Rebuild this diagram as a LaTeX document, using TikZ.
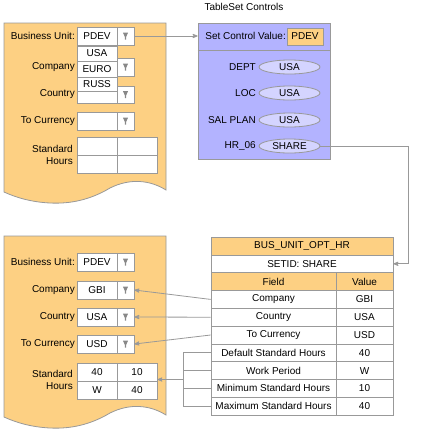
\documentclass[tikz,border=0pt]{standalone}
\usepackage{fontspec}
\setmainfont{Liberation Sans}
\usetikzlibrary{arrows}
\usetikzlibrary{shapes}

\definecolor{docorange}{HTML}{FDD083}
\definecolor{tsblue}{HTML}{B3B3FF}
\definecolor{tsoval}{HTML}{D4D4FF}
\definecolor{linegray}{HTML}{999999}
\definecolor{arrowgray}{HTML}{888888}

\newcommand{\DropArrow}[1]{\fill[arrowgray, shift={(#1)}] (-2.6,-3.5) -- (2.6,-3.5) -- (0.6,1) -- (0.6,3.5) -- (-0.6,3.5) -- (-0.6,1) -- cycle;}

\begin{document}
\begin{tikzpicture}[x = 1pt, y = -1pt, font = \fontsize{10}{12.5}\selectfont, >=stealth']
	\tikzstyle{lineStyle} = [draw = linegray, line width = 0.8pt]
	\tikzstyle{fieldStyle} = [shape = rectangle, draw = linegray, line width = 0.8pt, fill = white, minimum width = 40pt, minimum height = 18pt, inner sep = 0pt]
	\tikzstyle{buttonStyle} = [fieldStyle, minimum width = 17pt]
	\tikzstyle{labelStyle} = [anchor = east, inner sep = 1pt]
	\tikzstyle{ovalStyle} = [shape = ellipse, draw = linegray, line width = 0.8pt, fill = tsoval, minimum width = 61pt, minimum height = 14pt, inner sep = 0pt]
	\tikzstyle{cellStyle} = [shape = rectangle, draw = linegray, line width = 0.8pt, fill = white, minimum height = 17.8pt, inner sep = 0pt]
	\tikzstyle{headStyle} = [cellStyle, fill = docorange]
	\tikzstyle{connStyle} = [draw = linegray, line width = 0.8pt]
	\useasboundingbox (0,0) rectangle (435,432);
	% page shapes
	\filldraw[lineStyle, fill = docorange] (4,23) -- (166,23) -- (166,190) .. controls (150,180) and (130,178) .. (110,188) .. controls (90,200) and (70,204) .. (50,203) .. controls (30,202) and (15,197) .. (4,192) -- cycle;
	\filldraw[lineStyle, fill = docorange] (4,236) -- (166,236) -- (166,415) .. controls (150,405) and (130,403) .. (110,413) .. controls (90,425) and (70,429) .. (50,428) .. controls (30,427) and (15,422) .. (4,417) -- cycle;
	% top form
	\node[labelStyle] (tbuL) at (76,36) {Business Unit:};
	\node[fieldStyle] (tbu) at (97,36) {PDEV};
	\node[buttonStyle] (tbuB) at (125.5,36) {};
	\node[labelStyle] (tcoL) at (76,67) {Company};
	\node[fieldStyle, minimum height = 16pt] (tco) at (97,69) {EURO};
	\node[buttonStyle] (tcoB) at (125.5,67) {};
	\node[labelStyle] (tctL) at (76,94) {Country};
	\node[fieldStyle, minimum height = 17pt] (tct) at (97,94.5) {};
	\node[buttonStyle, minimum height = 17pt] (tctB) at (125.5,94.5) {};
	\node[fieldStyle, minimum height = 15pt] (tl1) at (97,53.5) {USA};
	\node[fieldStyle, minimum height = 14pt] (tl2) at (97,84) {RUSS};
	\node[labelStyle] (tcuL) at (76,121) {To Currency};
	\node[fieldStyle] (tcu) at (97,121) {};
	\node[buttonStyle] (tcuB) at (125.5,121) {};
	\node[labelStyle, align = right] (tshL) at (74,155) {Standard\\Hours};
	\node[fieldStyle] (tsh11) at (97,146) {};
	\node[fieldStyle] (tsh12) at (137,146) {};
	\node[fieldStyle] (tsh21) at (97,164) {};
	\node[fieldStyle] (tsh22) at (137,164) {};
	% tableset controls
	\node (tsT) at (244,7) {TableSet Controls};
	\node[shape = rectangle, lineStyle, fill = tsblue, minimum width = 132pt, minimum height = 136pt] (ts) at (264,91) {};
	\coordinate (tsDiv) at (264,50);
	\draw[lineStyle] (tsDiv -| ts.west) -- (tsDiv -| ts.east);
	\node[labelStyle] (tsvL) at (287,36) {Set Control Value:};
	\node[fieldStyle, fill = docorange, minimum width = 36pt, minimum height = 17pt] (tsv) at (305,36.5) {PDEV};
	\foreach \y/\lab/\val/\nm in {67/DEPT/USA/r1, 93/LOC/USA/r2, 120/SAL PLAN/USA/r3, 146/HR\_06/SHARE/r4}{
		\node[labelStyle] (L\nm) at (257,\y) {\lab};
		\node[ovalStyle] (\nm) at (289.5,\y) {\val};
	}
	% record table
	\node[headStyle, minimum width = 182pt] (tbT) at (302,246) {BUS\_UNIT\_OPT\_HR};
	\node[cellStyle, minimum width = 182pt] (tbS) at (302,263.8) {SETID: SHARE};
	\node[headStyle, minimum width = 125pt] (tbF) at (273.5,281.6) {Field};
	\node[headStyle, minimum width = 57pt] (tbV) at (364.5,281.6) {Value};
	\foreach \lab/\val [count = \i] in {Company/GBI, Country/USA, To Currency/USD, Default Standard Hours/40, Work Period/W, Minimum Standard Hours/10, Maximum Standard Hours/40}{
		\node[cellStyle, minimum width = 125pt] (f\i) at (273.5,281.6+17.8*\i) {\lab};
		\node[cellStyle, minimum width = 57pt] (v\i) at (364.5,281.6+17.8*\i) {\val};
	}
	% bottom form
	\node[labelStyle] (bbuL) at (76,262) {Business Unit:};
	\node[fieldStyle] (bbu) at (97,262) {PDEV};
	\node[buttonStyle] (bbuB) at (125.5,262) {};
	\node[labelStyle] (bcoL) at (76,290) {Company};
	\node[fieldStyle] (bco) at (97,290) {GBI};
	\node[buttonStyle] (bcoB) at (125.5,290) {};
	\node[labelStyle] (bctL) at (76,317) {Country};
	\node[fieldStyle] (bct) at (97,317) {USA};
	\node[buttonStyle] (bctB) at (125.5,317) {};
	\node[labelStyle] (bcuL) at (76,344) {To Currency};
	\node[fieldStyle] (bcu) at (97,344) {USD};
	\node[buttonStyle] (bcuB) at (125.5,344) {};
	\node[labelStyle, align = right] (bshL) at (74,380) {Standard\\Hours};
	\node[fieldStyle] (bsh11) at (97,372) {40};
	\node[fieldStyle] (bsh12) at (137,372) {10};
	\node[fieldStyle] (bsh21) at (97,390) {W};
	\node[fieldStyle] (bsh22) at (137,390) {40};
	\foreach \b in {tbuB, tcoB, tctB, tcuB, bbuB, bcoB, bctB, bcuB}{
		\DropArrow{\b}
	}
	% connectors
	\draw[connStyle, ->] (tbuB.east) -- (tbuB.east -| ts.west);
	\coordinate (bend) at (408,146);
	\draw[connStyle, ->] (r4.east) -- (bend) |- (tbS.east);
	\draw[connStyle, ->] (f1.west) -- (bcoB.east);
	\draw[connStyle, ->] (f2.west) -- (bctB.east);
	\draw[connStyle, ->] (f3.west) -- (bcuB.east);
	\coordinate (brk) at (183,379.5);
	\draw[connStyle] (f4.west) -- (f4.west -| brk) -- (f7.west -| brk) -- (f7.west);
	\draw[connStyle] (f5.west) -- (f5.west -| brk);
	\draw[connStyle] (f6.west) -- (f6.west -| brk);
	\draw[connStyle, ->] (brk) -- (brk -| bsh12.east);
\end{tikzpicture}
\end{document}
